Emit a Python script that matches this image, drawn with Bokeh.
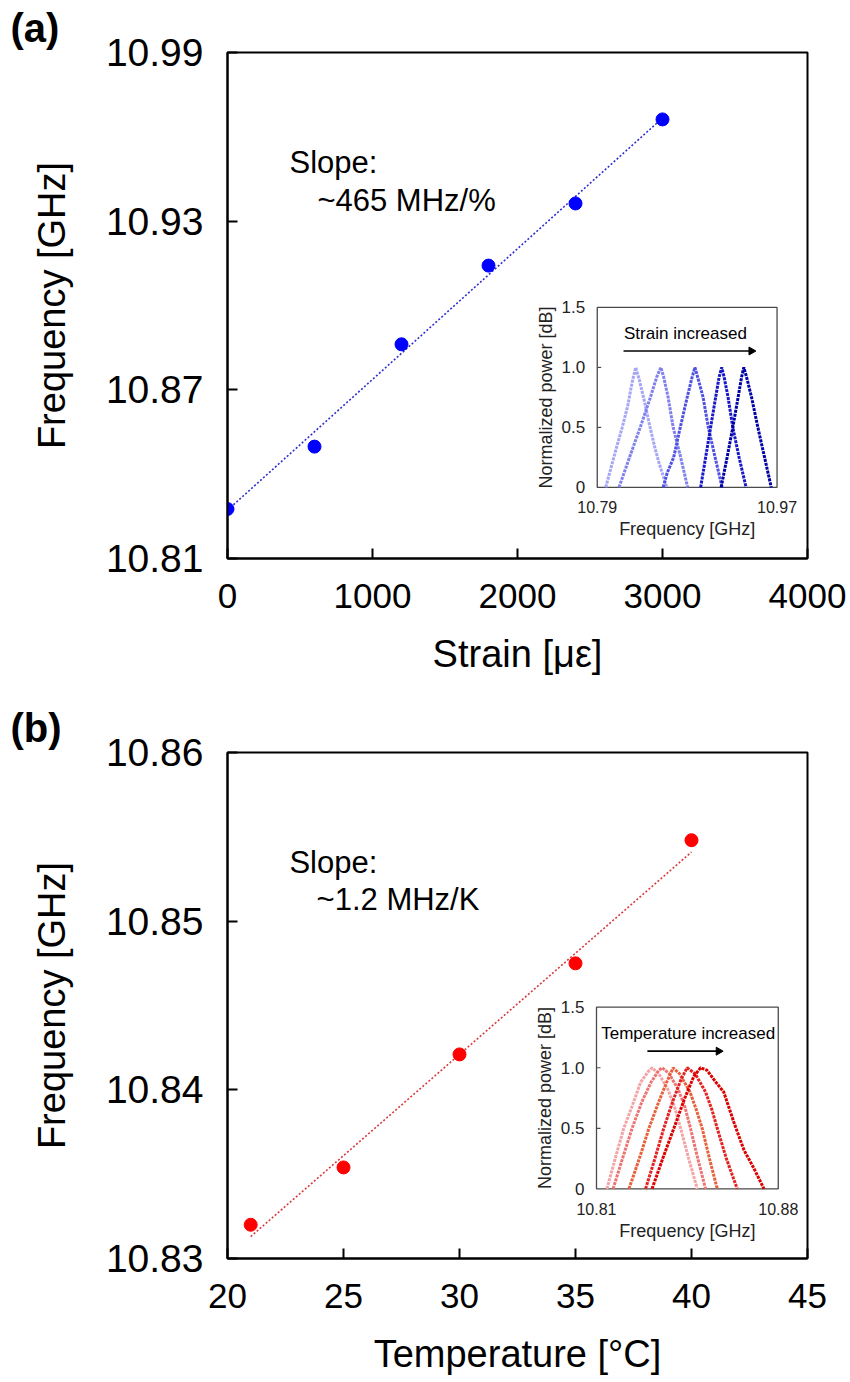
import numpy as np
from bokeh.plotting import figure
from bokeh.layouts import column
from bokeh.models import Range1d, FixedTicker, PrintfTickFormatter
from bokeh.core.properties import value
from bokeh.embed import file_html
from bokeh.resources import INLINE

# ---------------- data ----------------
# (a) strain
strain = [0, 600, 1200, 1800, 2400, 3000]
freq_strain = [10.8276, 10.8498, 10.8862, 10.9142, 10.9363, 10.9662]
fit_strain_x = [0, 3000]
fit_strain_y = [10.8272, 10.9667]

# (b) temperature
temperature = [21, 25, 30, 35, 40]
freq_temp = [10.8320, 10.8354, 10.8421, 10.8475, 10.8548]
fit_temp_x = [21, 40]
fit_temp_y = [10.8313, 10.8541]

# tick values / labels
strain_ticks = [0, 1000, 2000, 3000, 4000]
freq_a_ticks = [10.81, 10.87, 10.93, 10.99]
temp_ticks = [20, 25, 30, 35, 40, 45]
freq_b_ticks = [10.83, 10.84, 10.85, 10.86]

# inset (a) spectra: frequency [GHz], normalized power
sa1_f = [10.7985, 10.8040, 10.8095, 10.8150, 10.8205, 10.8250, 10.8285, 10.8320, 10.8369, 10.8429, 10.8480, 10.8520, 10.8597]
sa1_p = [0.00, 0.17, 0.34, 0.50, 0.68, 0.88, 1.00, 0.90, 0.73, 0.50, 0.32, 0.20, 0.00]
sa2_f = [10.8118, 10.8223, 10.8330, 10.8432, 10.8495, 10.8537, 10.8565, 10.8610, 10.8660, 10.8735, 10.8805]
sa2_p = [0.00, 0.25, 0.50, 0.75, 0.92, 1.00, 0.92, 0.75, 0.50, 0.25, 0.00]
sa3_f = [10.8560, 10.8600, 10.8665, 10.8731, 10.8800, 10.8850, 10.8878, 10.8905, 10.8960, 10.9012, 10.9080, 10.9150]
sa3_p = [0.00, 0.12, 0.25, 0.50, 0.75, 0.92, 1.00, 0.92, 0.75, 0.50, 0.25, 0.00]
sa4_f = [10.8935, 10.8985, 10.9035, 10.9085, 10.9120, 10.9146, 10.9170, 10.9210, 10.9257, 10.9320, 10.9390]
sa4_p = [0.00, 0.25, 0.50, 0.75, 0.92, 1.00, 0.92, 0.75, 0.50, 0.25, 0.00]
sa5_f = [10.9140, 10.9200, 10.9257, 10.9310, 10.9345, 10.9367, 10.9395, 10.9445, 10.9508, 10.9575, 10.9642]
sa5_p = [0.00, 0.25, 0.50, 0.75, 0.92, 1.00, 0.92, 0.75, 0.50, 0.25, 0.00]

# inset (b) spectra
sb1_f = [10.8140, 10.8172, 10.8205, 10.8240, 10.8270, 10.8300, 10.8314, 10.8340, 10.8375, 10.8400, 10.8424, 10.8455, 10.8488]
sb1_p = [0.00, 0.25, 0.50, 0.70, 0.88, 0.97, 1.00, 0.95, 0.82, 0.68, 0.50, 0.25, 0.00]
sb2_f = [10.8164, 10.8200, 10.8237, 10.8275, 10.8310, 10.8340, 10.8353, 10.8380, 10.8415, 10.8440, 10.8462, 10.8490, 10.8520]
sb2_p = [0.00, 0.25, 0.50, 0.72, 0.88, 0.98, 1.00, 0.95, 0.82, 0.68, 0.50, 0.25, 0.00]
sb3_f = [10.8225, 10.8265, 10.8302, 10.8340, 10.8370, 10.8395, 10.8420, 10.8460, 10.8485, 10.8507, 10.8535, 10.8565]
sb3_p = [0.00, 0.25, 0.50, 0.72, 0.88, 1.00, 0.95, 0.80, 0.65, 0.50, 0.25, 0.00]
sb4_f = [10.8289, 10.8325, 10.8359, 10.8395, 10.8425, 10.8449, 10.8480, 10.8520, 10.8545, 10.8565, 10.8600, 10.8642]
sb4_p = [0.00, 0.25, 0.50, 0.73, 0.90, 1.00, 0.95, 0.80, 0.65, 0.50, 0.25, 0.00]
sb5_f = [10.8314, 10.8355, 10.8398, 10.8440, 10.8475, 10.8501, 10.8525, 10.8560, 10.8590, 10.8629, 10.8668, 10.8706, 10.8745]
sb5_p = [0.00, 0.25, 0.50, 0.75, 0.93, 1.00, 0.98, 0.88, 0.80, 0.55, 0.32, 0.17, 0.00]

inset_y_ticks = [0, 0.5, 1.0, 1.5]
inset_y_labels = ["0", "0.5", "1.0", "1.5"]

colors_a = ["#a6a6f6", "#8080ee", "#5252e2", "#1818c8", "#0000a6"]
colors_b = ["#f4a3a6", "#ee7474", "#e8603c", "#e42222", "#dc0000"]

FONT = "Liberation Sans"


def main_fig(height, xr, yr, xticks, yticks, yfmt, xlabel, ylabel, border_top, border_bottom, tag):
    p = figure(width=850, height=height, x_range=Range1d(*xr), y_range=Range1d(*yr),
               output_backend="svg", toolbar_location=None,
               min_border_left=227, min_border_right=43, min_border_top=border_top,
               min_border_bottom=border_bottom, title=tag)
    p.title.align = "left"
    p.title.offset = -217
    p.title.standoff = 6
    p.title.text_font = FONT
    p.title.text_font_size = "40px"
    p.title.text_font_style = "bold"
    p.title.text_color = "black"
    p.grid.visible = False
    p.outline_line_color = "black"
    p.outline_line_width = 2
    p.background_fill_color = "white"
    p.border_fill_color = "white"
    p.xaxis.ticker = FixedTicker(ticks=xticks)
    p.yaxis.ticker = FixedTicker(ticks=yticks)
    p.yaxis.formatter = PrintfTickFormatter(format=yfmt)
    p.xaxis.formatter = PrintfTickFormatter(format="%d")
    p.xaxis.axis_label = xlabel
    p.yaxis.axis_label = ylabel
    for ax in (p.xaxis[0], p.yaxis[0]):
        ax.axis_line_width = 2
        ax.axis_line_color = "black"
        ax.major_tick_in = 10
        ax.major_tick_out = 0
        ax.major_tick_line_width = 2
        ax.major_tick_line_color = "black"
        ax.minor_tick_line_color = None
        ax.major_label_text_font = FONT
        ax.major_label_text_color = "black"
        ax.axis_label_text_font = FONT
        ax.axis_label_text_font_size = "38px"
        ax.axis_label_text_font_style = "normal"
        ax.axis_label_text_color = "black"
    p.yaxis.major_label_text_font_size = "39px"
    p.xaxis.major_label_text_font_size = "35px"
    p.yaxis.major_label_standoff = 24
    p.yaxis.axis_label_standoff = 30
    p.xaxis.major_label_standoff = 25
    p.xaxis.axis_label_standoff = 22
    return p


def draw_inset(p, xsrc, ysrc, xtgt, ytgt, curves, colors, arrow_text, text_x, arrow_x0, arrow_x1,
               xlabels):
    sub = p.subplot(x_source=Range1d(*xsrc), y_source=Range1d(*ysrc),
                    x_target=Range1d(*xtgt), y_target=Range1d(*ytgt))
    x0, x1 = xsrc
    dx = x1 - x0
    sub.quad(left=x0, right=x1, bottom=0, top=1.5, fill_color="white",
             line_color="#4a4a4a", line_width=1.3)
    for (f, pw), c in zip(curves, colors):
        sub.line(f, pw, line_color=c, line_width=3, line_dash="3 1")
    # y ticks
    sub.segment(x0=[x0, x0], x1=[x0 + dx * 0.022] * 2, y0=[0.5, 1.0], y1=[0.5, 1.0],
                line_color="#4a4a4a", line_width=1.2)
    sub.text(x=[x0] * 4, y=inset_y_ticks, text=inset_y_labels, x_offset=-12,
             text_align="right", text_baseline="middle", text_font=value(FONT),
             text_font_size="17px", text_color="#222222")
    sub.text(x=[x0, x1], y=[-0.165, -0.165], text=xlabels, text_align="center",
             text_baseline="middle", text_font=value(FONT), text_font_size="16px",
             text_color="#222222")
    sub.text(x=[x0 + dx / 2], y=[-0.345], text=["Frequency [GHz]"], text_align="center",
             text_baseline="middle", text_font=value(FONT), text_font_size="18px",
             text_color="#222222")
    sub.text(x=[x0 - dx * 0.285], y=[0.75], text=["Normalized power [dB]"], angle=np.pi / 2,
             text_align="center", text_baseline="middle", text_font=value(FONT),
             text_font_size="18px", text_color="#222222")
    sub.text(x=[text_x], y=[1.283], text=[arrow_text], text_align="center",
             text_baseline="middle", text_font=value(FONT), text_font_size="17px",
             text_color="black")
    sub.segment(x0=[arrow_x0], x1=[arrow_x1], y0=[1.137], y1=[1.137], line_color="black",
                line_width=1.6)
    sub.scatter(x=[arrow_x1], y=[1.137], marker="triangle", size=8, angle=-np.pi / 2,
                fill_color="black", line_color="black")
    return sub


# ---------------- panel (a) ----------------
pa = main_fig(683, (0, 4000), (10.81, 10.99), strain_ticks, freq_a_ticks, "%.2f",
              "Strain [\u03bc\u03b5]", "Frequency [GHz]", 52, 125, "(a)")
pa.line(fit_strain_x, fit_strain_y, line_color="#2f2fcf", line_width=1.6, line_dash="2 2")
pa.scatter(strain, freq_strain, size=13, fill_color="#0000ff", line_color="#0000ff")
pa.text(x=[428], y=[10.9509], text=["Slope:"], text_baseline="middle",
        text_font=value(FONT), text_font_size="31px", text_color="black")
pa.text(x=[620], y=[10.9374], text=["~465 MHz/%"], text_baseline="middle",
        text_font=value(FONT), text_font_size="31px", text_color="black")
draw_inset(pa, (10.79, 10.97), (0, 1.5), (2550, 3790), (10.8353, 10.8993),
           [(sa1_f, sa1_p), (sa2_f, sa2_p), (sa3_f, sa3_p), (sa4_f, sa4_p), (sa5_f, sa5_p)],
           colors_a, "Strain increased", 10.8783, 10.8163, 10.9442, ["10.79", "10.97"])

# ---------------- panel (b) ----------------
pb = main_fig(698, (20, 45), (10.83, 10.86), temp_ticks, freq_b_ticks, "%.2f",
              "Temperature [\u00b0C]", "Frequency [GHz]", 69, 123, "(b)")
pb.line(fit_temp_x, fit_temp_y, line_color="#d63a3a", line_width=1.6, line_dash="2 2")
pb.scatter(temperature, freq_temp, size=13, fill_color="#ff0000", line_color="#ff0000")
pb.text(x=[22.67], y=[10.8535], text=["Slope:"], text_baseline="middle",
        text_font=value(FONT), text_font_size="31px", text_color="black")
pb.text(x=[23.84], y=[10.8513], text=["~1.2 MHz/K"], text_baseline="middle",
        text_font=value(FONT), text_font_size="31px", text_color="black")
draw_inset(pb, (10.81, 10.88), (0, 1.5), (35.905, 43.74), (10.83413, 10.8449),
           [(sb1_f, sb1_p), (sb2_f, sb2_p), (sb3_f, sb3_p), (sb4_f, sb4_p), (sb5_f, sb5_p)],
           colors_b, "Temperature increased", 10.8453, 10.8296, 10.857, ["10.81", "10.88"])

layout = column(pa, pb, spacing=0)
open("out.html", "w").write(file_html(layout, INLINE))
